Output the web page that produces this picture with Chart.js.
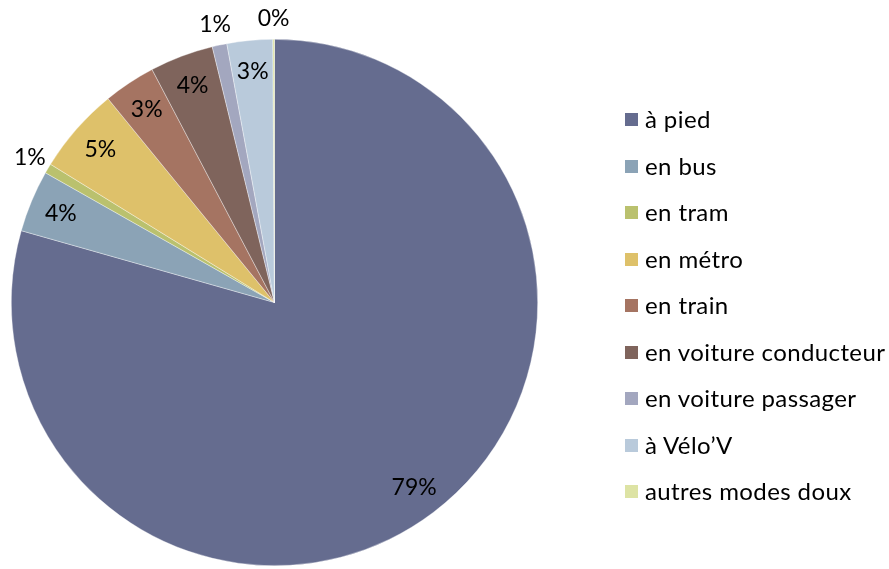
<!DOCTYPE html>
<html>
<head>
<meta charset="utf-8">
<script src="https://cdn.jsdelivr.net/npm/chart.js@4.4.1/dist/chart.umd.min.js"></script>
<style>
    body { margin: 0; background: #fff; }
    #wrap { position: relative; width: 889px; height: 569px; }
    #legend { position: absolute; left: 625px; top: 96px; font-family: Lato, "Open Sans", sans-serif; font-size: 24px; letter-spacing: 0.4px; color: #000; }
    #legend div { height: 46.5px; line-height: 46px; white-space: nowrap; }
    #legend span.box { display: inline-block; width: 13px; height: 13px; margin-right: 7px; vertical-align: middle; position: relative; top: -2px; }
</style>
</head>
<body>
<div id="wrap">
    <canvas id="ChartModes" width="889" height="569"></canvas>
    <div id="legend"></div>
</div>
<script>
// parts modales (%)
var modes = ['à pied', 'en bus', 'en tram', 'en métro', 'en train', 'en voiture conducteur', 'en voiture passager', 'à Vélo\u2019V', 'autres modes doux'];
var parts = [79.4, 3.8, 0.6, 5.3, 3.2, 3.9, 0.9, 2.8, 0.1];
var couleurs = ['#656C8F', '#8BA3B6', '#BAC16E', '#DEC16A', '#A57462', '#7F645C', '#A3A7BF', '#B9CADB', '#DDE3A4'];

// étiquettes en % : dedans pour les grosses parts, dehors pour les petites
var pctLabels = {
    id: 'pctLabels',
    afterDatasetsDraw: function (chart) {
        var ctx = chart.ctx;
        var meta = chart.getDatasetMeta(0);
        var total = parts.reduce(function (a, b) { return a + b; }, 0);
        ctx.save();
        ctx.font = '23px Lato, "Open Sans", sans-serif';
        ctx.fillStyle = '#000';
        ctx.textAlign = 'center';
        ctx.textBaseline = 'middle';
        meta.data.forEach(function (arc, i) {
            var p = arc.getProps(['x', 'y', 'startAngle', 'endAngle', 'outerRadius'], true);
            var mid = (p.startAngle + p.endAngle) / 2;
            var pct = parts[i] / total * 100;
            var r = pct < 1.5 ? p.outerRadius * 1.08 : p.outerRadius * 0.88;
            ctx.fillText(Math.round(pct) + '%', p.x + Math.cos(mid) * r, p.y + Math.sin(mid) * r);
        });
        ctx.restore();
    }
};

var ctx = document.getElementById('ChartModes').getContext('2d');
var ChartModes = new Chart(ctx, {
    type: 'pie',
    data: {
        labels: modes,
        datasets: [{
            data: parts,
            backgroundColor: couleurs,
            borderColor: 'rgba(255,255,255,0.6)',
            borderWidth: 0.6
        }]
    },
    options: {
        responsive: false,
        animation: false,
        layout: { padding: { left: 8, top: 39, right: 348, bottom: 3 } },
        plugins: {
            legend: { display: false },
            tooltip: { enabled: false }
        }
    },
    plugins: [pctLabels]
});

var legend = document.getElementById('legend');
modes.forEach(function (m, i) {
    var row = document.createElement('div');
    row.innerHTML = '<span class="box" style="background:' + couleurs[i] + '"></span>' + m;
    legend.appendChild(row);
});
</script>
</body>
</html>
